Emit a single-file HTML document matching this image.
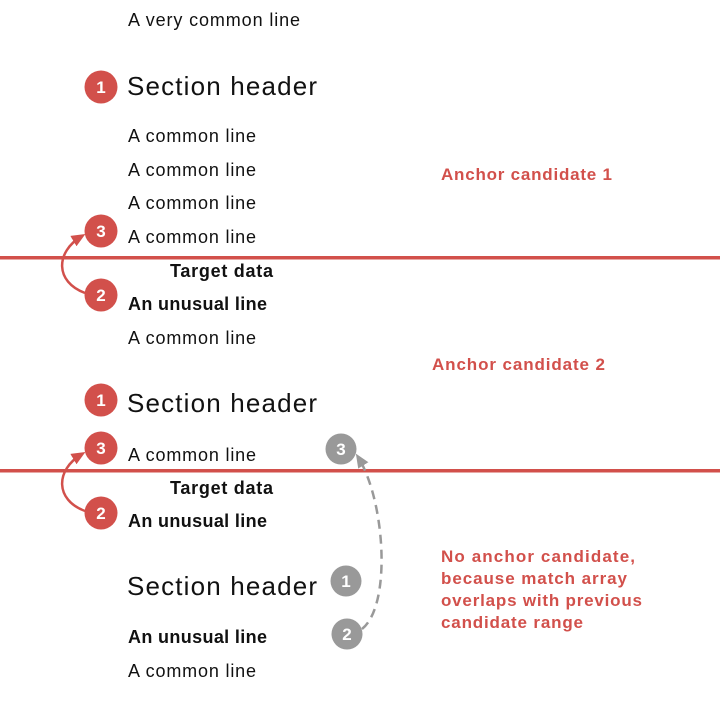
<!DOCTYPE html>
<html><head><style>body{margin:0;background:#fff}svg{display:block}</style></head><body>
<svg width="720" height="720" xmlns="http://www.w3.org/2000/svg" font-family="Liberation Sans, sans-serif">
<defs>
<marker id="ar" markerWidth="14" markerHeight="12" refX="10" refY="6" orient="auto" markerUnits="userSpaceOnUse"><path d="M0,0 L14,6 L0,12 Z" fill="#d2504b"/></marker>
<marker id="ag" markerWidth="14" markerHeight="12" refX="10" refY="6" orient="auto" markerUnits="userSpaceOnUse"><path d="M0,0 L14,6 L0,12 Z" fill="#999"/></marker>
</defs>
<g font-size="18" fill="#111" lengthAdjust="spacingAndGlyphs">
<text x="128" y="26" textLength="172">A very common line</text>
<text x="128" y="142" textLength="128">A common line</text>
<text x="128" y="176" textLength="128">A common line</text>
<text x="128" y="209" textLength="128">A common line</text>
<text x="128" y="243" textLength="128">A common line</text>
<text x="128" y="344" textLength="128">A common line</text>
<text x="128" y="461" textLength="128">A common line</text>
<text x="128" y="677" textLength="128">A common line</text>
</g>
<g font-size="26" fill="#111">
<text x="127" y="95" textLength="190">Section header</text>
<text x="127" y="412" textLength="190">Section header</text>
<text x="127" y="595" textLength="190">Section header</text>
</g>
<g font-size="18" font-weight="bold" fill="#111">
<text x="170" y="277" textLength="103">Target data</text>
<text x="128" y="310" textLength="139">An unusual line</text>
<text x="170" y="494" textLength="103">Target data</text>
<text x="128" y="527" textLength="139">An unusual line</text>
<text x="128" y="643" textLength="139">An unusual line</text>
</g>
<g font-size="17" font-weight="bold" fill="#d2504b">
<text x="441" y="180" textLength="171">Anchor candidate 1</text>
<text x="432" y="370" textLength="173">Anchor candidate 2</text>
<text x="441" y="562" textLength="194">No anchor candidate,</text>
<text x="441" y="584" textLength="186">because match array</text>
<text x="441" y="606" textLength="201">overlaps with previous</text>
<text x="441" y="628" textLength="142">candidate range</text>
</g>
<rect x="0" y="256" width="720" height="3.5" fill="#d2504b"/>
<rect x="0" y="469" width="720" height="3.5" fill="#d2504b"/>
<path d="M85,293 C55,282 55,252 82,236" fill="none" stroke="#d2504b" stroke-width="2.5" marker-end="url(#ar)"/>
<path d="M85,511 C55,500 55,470 82,454" fill="none" stroke="#d2504b" stroke-width="2.5" marker-end="url(#ar)"/>
<path d="M362,629 C392,605 385,500 358,457" fill="none" stroke="#999" stroke-width="2.5" stroke-dasharray="9,6" marker-end="url(#ag)"/>
<g fill="#d2504b">
<circle cx="101" cy="87" r="16.5"/><circle cx="101" cy="231" r="16.5"/><circle cx="101" cy="295" r="16.5"/>
<circle cx="101" cy="400" r="16.5"/><circle cx="101" cy="448" r="16.5"/><circle cx="101" cy="513" r="16.5"/>
</g>
<g fill="#999">
<circle cx="341" cy="449" r="15.5"/><circle cx="346" cy="581" r="15.5"/><circle cx="347" cy="634" r="15.5"/>
</g>
<g fill="#fff" font-size="17" font-weight="bold" text-anchor="middle">
<text x="101" y="93">1</text><text x="101" y="237">3</text><text x="101" y="301">2</text>
<text x="101" y="406">1</text><text x="101" y="454">3</text><text x="101" y="519">2</text>
<text x="341" y="455">3</text><text x="346" y="587">1</text><text x="347" y="640">2</text>
</g>
</svg>
</body></html>
